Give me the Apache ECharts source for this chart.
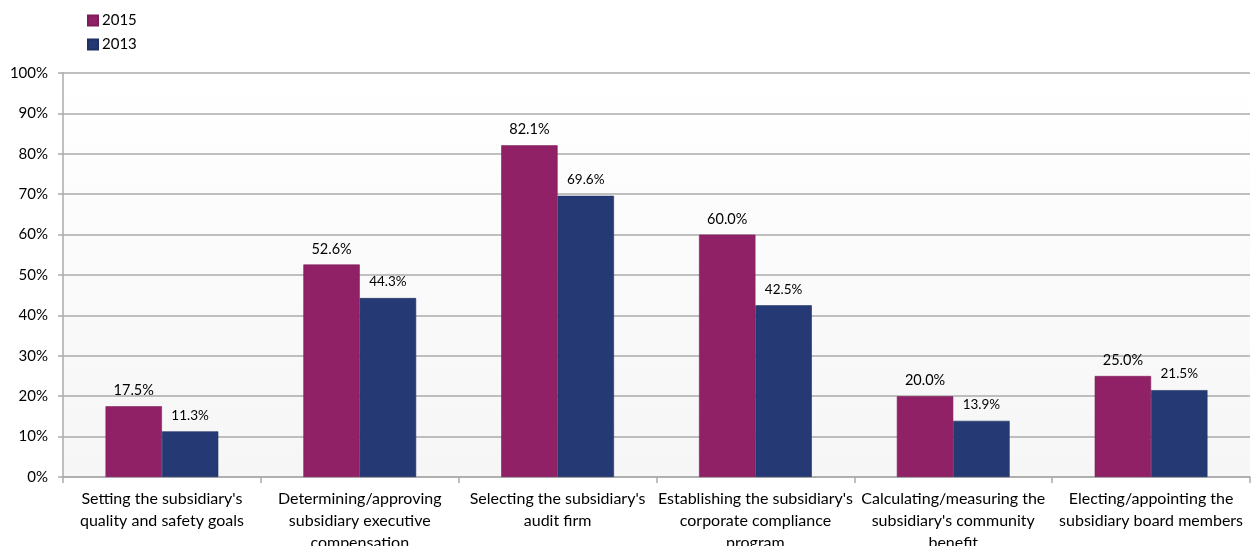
<!DOCTYPE html>
<html>
<head>
<meta charset="utf-8">
<script src="https://cdn.jsdelivr.net/npm/echarts@6/dist/echarts.min.js"></script>
<style>
  html, body { margin: 0; padding: 0; background: #ffffff; }
  #chart { width: 1252px; height: 546px; }
</style>
</head>
<body>
<div id="chart"></div>
<script>
// Board oversight responsibilities for subsidiaries, 2015 vs 2013 (share of respondents)
const categories = [
  "Setting the subsidiary's\nquality and safety goals",
  "Determining/approving\nsubsidiary executive\ncompensation",
  "Selecting the subsidiary's\naudit firm",
  "Establishing the subsidiary's\ncorporate compliance\nprogram",
  "Calculating/measuring the\nsubsidiary's community\nbenefit",
  "Electing/appointing the\nsubsidiary board members"
];
const values2015 = [17.5, 52.6, 82.1, 60.0, 20.0, 25.0];
const values2013 = [11.3, 44.3, 69.6, 42.5, 13.9, 21.5];
const seriesNames = ['2015', '2013'];

const FONT = 'Lato, "Open Sans", sans-serif';
const GRID_COLOR = '#ababab';

const chart = echarts.init(document.getElementById('chart'), null, { renderer: 'canvas' });

chart.setOption({
  animation: false,
  backgroundColor: '#ffffff',
  textStyle: { fontFamily: FONT, color: '#000' },
  legend: {
    orient: 'vertical',
    left: 82,
    top: 8,
    itemWidth: 10,
    itemHeight: 10,
    itemGap: 9,
    icon: 'rect',
    textStyle: { fontFamily: FONT, fontSize: 15, color: '#000', padding: [0, 0, 0, -1] },
    data: seriesNames
  },
  grid: {
    left: 63,
    right: 2,
    top: 73,
    bottom: 69,
    outerBoundsMode: 'none',
    containLabel: false,
    show: true,
    borderWidth: 0,
    backgroundColor: new echarts.graphic.LinearGradient(0, 0, 0, 1, [
      { offset: 0, color: '#ffffff' },
      { offset: 1, color: '#f6f6f6' }
    ])
  },
  xAxis: {
    type: 'category',
    data: categories,
    boundaryGap: true,
    axisLine: { show: true, lineStyle: { color: GRID_COLOR, width: 1.5 } },
    axisTick: { show: true, interval: 0, length: 6, lineStyle: { color: GRID_COLOR, width: 1.5 } },
    axisLabel: {
      interval: 0,
      margin: 11,
      fontFamily: FONT,
      fontSize: 16,
      lineHeight: 22,
      color: '#000',
      align: 'center'
    }
  },
  yAxis: {
    type: 'value',
    min: 0,
    max: 100,
    interval: 10,
    axisLine: { show: true, lineStyle: { color: GRID_COLOR, width: 1.5 } },
    axisTick: { show: true, length: 5, lineStyle: { color: GRID_COLOR, width: 1.5 } },
    splitLine: { show: true, lineStyle: { color: GRID_COLOR, width: 1.5 } },
    axisLabel: {
      margin: 15,
      fontFamily: FONT,
      fontSize: 15,
      color: '#000',
      formatter: '{value}%'
    }
  },
  series: [
    {
      name: seriesNames[0],
      type: 'bar',
      data: values2015,
      barGap: '0%',
      barCategoryGap: '43%',
      itemStyle: { color: '#912166', borderColor: '#7d1c58', borderWidth: 0.6 },
      label: {
        show: true,
        position: 'top',
        distance: 8,
        fontFamily: FONT,
        fontSize: 14.5,
        color: '#000',
        formatter: p => p.value.toFixed(1) + '%'
      }
    },
    {
      name: seriesNames[1],
      type: 'bar',
      data: values2013,
      itemStyle: { color: '#253a74', borderColor: '#1f3163', borderWidth: 0.6 },
      label: {
        show: true,
        position: 'top',
        distance: 9,
        fontFamily: FONT,
        fontSize: 13.5,
        color: '#000',
        formatter: p => p.value.toFixed(1) + '%'
      }
    }
  ]
});
</script>
</body>
</html>
